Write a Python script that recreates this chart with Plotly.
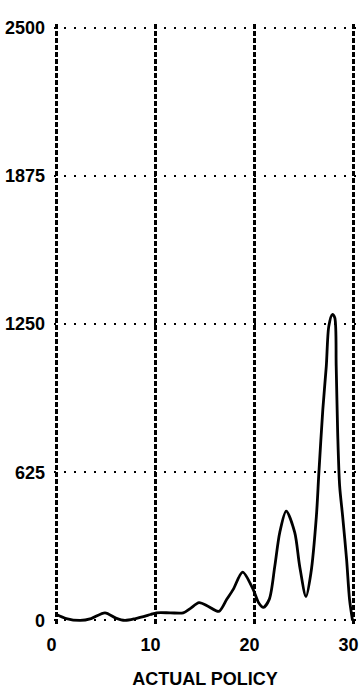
import plotly.graph_objects as go

# Data
policy_x = [0, 1, 2.4, 3.5, 4.9, 6, 6.9, 8, 9.5, 10.1, 11.5, 12.8, 13.5, 14.4,
            15.3, 16.4, 17.2, 17.85, 18.8, 19.86, 20.4, 20.9, 21.5, 22.05, 22.55,
            23.2, 24.06, 24.56, 25.2, 25.7, 26.25, 26.5, 26.9, 27.25, 27.5, 27.85,
            28.1, 28.25, 28.4, 28.6, 28.9, 29.3, 29.6, 29.9]
policy_y = [25, 8, 0, 8, 32, 10, 0, 8, 25, 32, 32, 32, 50, 75,
            60, 38, 89, 131, 204, 131, 76, 55, 90, 229, 371,
            461, 371, 229, 101, 201, 440, 622, 890, 1072, 1240, 1290,
            1277, 1072, 791, 566, 440, 257, 88, 0]

x_ticks = [0, 10, 20, 30]
x_tick_labels = ["0", "10", "20", "30"]
y_ticks = [0, 625, 1250, 1875, 2500]
y_tick_labels = ["0", "625", "1250", "1875", "2500"]
x_title = "ACTUAL POLICY"

FONT = dict(family="Liberation Sans, Arial, sans-serif", size=18, color="black", weight="bold")

fig = go.Figure()
fig.add_trace(go.Scatter(
    x=policy_x, y=policy_y, mode="lines",
    line=dict(color="black", width=2.8, shape="spline", smoothing=0.8),
    hoverinfo="skip", showlegend=False,
))

fig.update_layout(
    width=359, height=689,
    margin=dict(l=53.5, r=2.5, t=24.4, b=64.5, autoexpand=False),
    paper_bgcolor="white", plot_bgcolor="white",
    font=FONT,
    xaxis=dict(
        range=[-0.25, 30.25], tickmode="array", tickvals=x_ticks, ticktext=x_tick_labels,
        showgrid=True, gridcolor="black", gridwidth=2.5, griddash="5px,2px",
        zeroline=False, showline=False, ticks="", ticklabelstandoff=8,
        ticklabelshift=-5, ticklabeloverflow="allow", tickfont=FONT,
        title=dict(text=x_title, font=FONT, standoff=22),
        fixedrange=True, automargin=False,
    ),
    yaxis=dict(
        range=[-15, 2515], tickmode="array", tickvals=y_ticks, ticktext=y_tick_labels,
        showgrid=True, gridcolor="black", gridwidth=2, griddash="2px,8px",
        zeroline=False, showline=False, ticks="", ticklabelstandoff=8,
        ticklabeloverflow="allow", tickfont=FONT, fixedrange=True, automargin=False,
    ),
)

fig.write_html(
    "out.html",
    config={"displayModeBar": False},
    post_script="document.body.style.margin='0';document.body.style.overflow='hidden';",
)
